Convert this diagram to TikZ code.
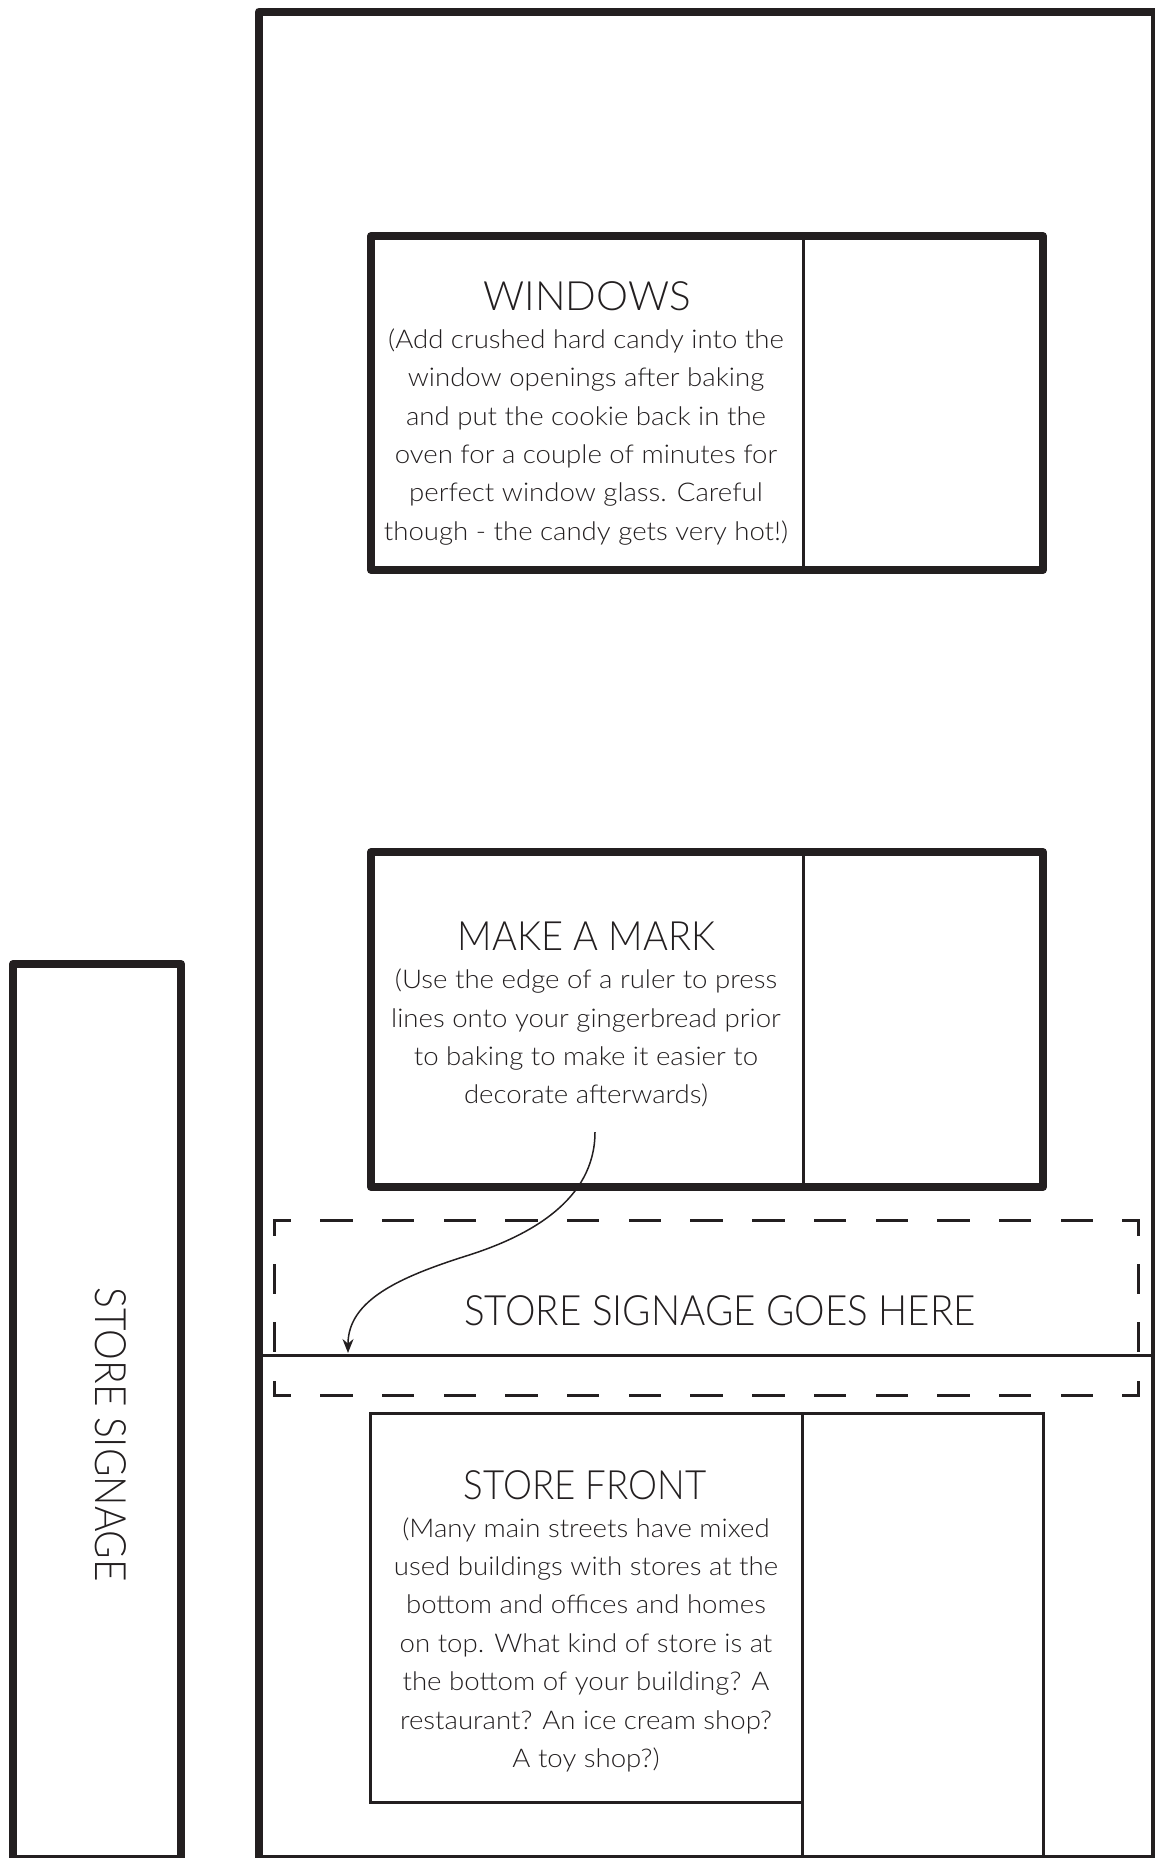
\documentclass[tikz,border=0pt]{standalone}
\usepackage{fontspec}
\usepackage{graphicx}
\usetikzlibrary{arrows.meta}
\newfontfamily\ttlfont{Lato Light}
\newfontfamily\bodyfont{Lato Light}[FakeStretch=1.07]
\definecolor{ink}{RGB}{35,31,32}
\newcommand{\hsq}[2]{\scalebox{#1}[1]{#2}}
\begin{document}
\begin{tikzpicture}[x=0.5pt,y=-0.5pt,
  thickbox/.style={draw=ink, line width=4pt, line join=round},
  thinline/.style={draw=ink, line width=1.5pt},
  dashh/.style={draw=ink, line width=1.5pt, line cap=rect, dash pattern=on 14.7pt off 16.15pt, dash phase=7.35pt},
  dashv/.style={draw=ink, line width=1.5pt, line cap=rect, dash pattern=on 13.5pt off 15.72pt, dash phase=6.75pt},
  ttl/.style={font=\ttlfont\fontsize{20.2}{24}\selectfont, text=ink, inner sep=0pt, anchor=base},
  body/.style={font=\bodyfont\fontsize{12.9}{19.2}\selectfont, text=ink, inner sep=0pt, anchor=north, align=center},
]
\useasboundingbox (0,0) rectangle (1155,1858);
\clip (0,0) rectangle (1155,1858);
% outer frame and side sign
\draw[thickbox] (259,11.5) rectangle (1155,1859);
\draw[thickbox] (13,964) rectangle (181,1859);
% windows
\draw[thickbox] (371,236) rectangle (1043,570);
\draw[thinline] (803,236) -- (803,570);
% make a mark
\draw[thickbox] (371,852) rectangle (1043,1187);
\draw[thinline] (803,852) -- (803,1187);
% floor line
\draw[thinline] (259,1355) -- (1155,1355);
% store front
\draw[thinline] (370.5,1413.3) rectangle (802.5,1802);
\draw[thinline] (802.5,1413.3) -- (1043,1413.3) -- (1043,1862);
\draw[thinline] (802.5,1802) -- (802.5,1862);
% dashed signage box
\draw[dashh] (274.7,1220.5) -- (1138.5,1220.5);
\draw[dashh] (274.7,1395.8) -- (1138.5,1395.8);
\draw[dashv] (274.7,1220.5) -- (274.7,1395.8);
\draw[dashv] (1138.5,1220.5) -- (1138.5,1395.8);
% texts
\node[ttl] (wintitle) at (587,310) {WINDOWS};
\node[body] (winbody) at (586,321.1) {\strut(Add crushed hard candy into the\\window openings after baking\\and put the cookie back in the\\oven for a couple of minutes for\\perfect window glass. Careful\\though - the candy gets very hot!)};
\node[ttl] (marktitle) at (586.5,950) {\hsq{0.94}{MAKE A MARK}};
\node[body] (markbody) at (586,961.4) {\strut(Use the edge of a ruler to press\\lines onto your gingerbread prior\\to baking to make it easier to\\decorate afterwards)};
\node[ttl] (fronttitle) at (585,1499) {\hsq{0.907}{STORE FRONT}};
\node[body] (frontbody) at (586,1509.8) {\strut(Many main streets have mixed\\used buildings with stores at the\\bottom and offices and homes\\on top. What kind of store is at\\the bottom of your building? A\\restaurant? An ice cream shop?\\A toy shop?)};
\node[ttl, font=\ttlfont\fontsize{20.9}{24}\selectfont] (signhere) at (720,1325) {\hsq{0.923}{STORE SIGNAGE GOES HERE}};
\node[ttl, font=\ttlfont\fontsize{21.6}{24}\selectfont, rotate=-90] (signside) at (95,1435) {\hsq{0.9}{STORE SIGNAGE}};
% arrow
\coordinate (arrowstart) at (595,1132);
\coordinate (arrowend) at (348,1353);
\draw[ink, line width=0.75pt, -{Stealth[length=7pt,width=5.5pt]}] (arrowstart) .. controls (595,1200) and (530,1236) .. (466,1256) .. controls (400,1277) and (348,1300) .. (arrowend);
\end{tikzpicture}
\end{document}
